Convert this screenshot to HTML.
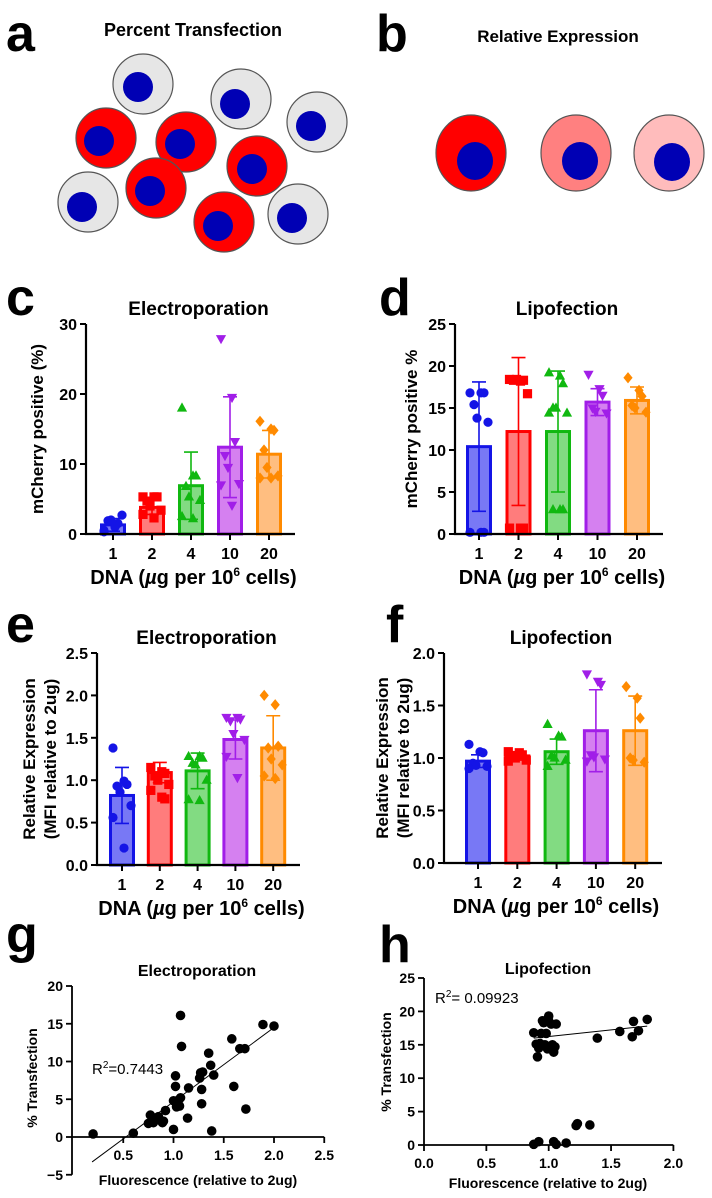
<!DOCTYPE html>
<html><head><meta charset="utf-8">
<style>
html,body{margin:0;padding:0;background:#fff;}
svg{display:block;font-family:"Liberation Sans",Arial,sans-serif;}
.lbl{font-weight:bold;font-size:52px;}
.ttl{font-weight:bold;font-size:19px;}
.tick{font-weight:bold;font-size:16px;}
.stick{font-weight:bold;font-size:14px;}
.atl{font-weight:bold;font-size:20px;}
.ytl{font-weight:bold;font-size:17px;}
</style></head>
<body>
<svg id="fig" width="712" height="1198" viewBox="0 0 712 1198">
<g>
<text class="lbl" x="6" y="51">a</text>
<text class="ttl" x="193" y="36" text-anchor="middle" style="font-size:18px">Percent Transfection</text>
<g stroke="#555" stroke-width="1.2">
<circle cx="143" cy="84" r="30" fill="#e6e6e6"/><circle cx="138" cy="87" r="15" fill="#0000b4" stroke="none"/>
<circle cx="241" cy="99" r="30" fill="#e6e6e6"/><circle cx="235" cy="104" r="15" fill="#0000b4" stroke="none"/>
<circle cx="317" cy="122" r="30" fill="#e6e6e6"/><circle cx="311" cy="126" r="15" fill="#0000b4" stroke="none"/>
<circle cx="106" cy="138" r="30" fill="#ff0000"/><circle cx="99" cy="141" r="15" fill="#0000b4" stroke="none"/>
<circle cx="186" cy="142" r="30" fill="#ff0000"/><circle cx="180" cy="144" r="15" fill="#0000b4" stroke="none"/>
<circle cx="257" cy="166" r="30" fill="#ff0000"/><circle cx="252" cy="169" r="15" fill="#0000b4" stroke="none"/>
<circle cx="88" cy="202" r="30" fill="#e6e6e6"/><circle cx="82" cy="207" r="15" fill="#0000b4" stroke="none"/>
<circle cx="156" cy="188" r="30" fill="#ff0000"/><circle cx="150" cy="191" r="15" fill="#0000b4" stroke="none"/>
<circle cx="224" cy="222" r="30" fill="#ff0000"/><circle cx="218" cy="226" r="15" fill="#0000b4" stroke="none"/>
<circle cx="298" cy="214" r="30" fill="#e6e6e6"/><circle cx="292" cy="218" r="15" fill="#0000b4" stroke="none"/>
</g></g>
<g>
<text class="lbl" x="376" y="51">b</text>
<text class="ttl" x="558" y="42" text-anchor="middle" style="font-size:17px">Relative Expression</text>
<g stroke="#555" stroke-width="1.2">
<ellipse cx="471" cy="153" rx="35" ry="38" fill="#ff0000"/><ellipse cx="475" cy="161" rx="18" ry="19" fill="#0000b4" stroke="none"/>
<ellipse cx="576" cy="153" rx="35" ry="38" fill="#ff8080"/><ellipse cx="580" cy="161" rx="18" ry="19" fill="#0000b4" stroke="none"/>
<ellipse cx="669" cy="153" rx="35" ry="38" fill="#ffbcbc"/><ellipse cx="672" cy="162" rx="18" ry="19" fill="#0000b4" stroke="none"/>
</g></g>
<text class="lbl" x="6" y="315">c</text>
<text class="lbl" x="379" y="315">d</text>
<text class="lbl" x="6" y="642">e</text>
<text class="lbl" x="386" y="642">f</text>
<text class="lbl" x="6" y="952">g</text>
<text class="lbl" x="379" y="962">h</text>
</svg>
<script>
const doseCats = ["1","2","4","10","20"];
const cMeans = [1.3, 3.8, 6.9, 12.4, 11.4];
const cSDs = [0.9, 1.0, 4.8, 7.2, 3.4];
const cPts = [[0.5,1.0,1.5,1.9,2.0,2.7,0.3,1.2],[5.3,5.3,5.3,4.7,4.0,3.4,2.8,2.3],[18.0,8.3,8.3,6.8,5.3,4.8,2.5,2.2],[27.9,19.5,13.2,11.2,9.5,7.2,7.0,4.1],[16.1,15.0,14.8,12.0,9.5,8.3,8.0,8.0]];
const cTicks = [0,10,20,30];
const dMeans = [10.4, 12.2, 12.2, 15.7, 15.9];
const dSDs = [7.7, 8.8, 7.2, 1.6, 1.6];
const dPts = [[16.8,16.8,16.8,15.4,13.8,13.3,0.2,0.2,0.2],[18.4,18.2,18.3,18.3,18.4,16.7,0.7,0.7,0.7],[19.2,18.8,17.9,15.0,15.0,14.4,14.4,2.9,2.9,2.9],[19.0,17.3,16.5,15.0,14.6,14.4],[18.6,17.1,16.4,15.3,15.0,14.5]];
const dTicks = [0,5,10,15,20,25];
const eMeans = [0.82, 1.09, 1.11, 1.48, 1.38];
const eSDs = [0.33, 0.12, 0.21, 0.23, 0.38];
const ePts = [[1.38,0.99,0.95,0.93,0.86,0.70,0.56,0.20],[1.15,1.10,1.08,1.05,1.00,0.95,0.88,0.80,0.78],[1.28,1.28,1.26,1.20,1.18,1.00,0.77,0.76],[1.74,1.74,1.72,1.70,1.55,1.48,1.28,1.03],[2.00,1.89,1.40,1.38,1.25,1.18,1.05,1.02]];
const eTicks = [0,0.5,1.0,1.5,2.0,2.5];
const fMeans = [0.97, 1.02, 1.06, 1.26, 1.26];
const fSDs = [0.06, 0.04, 0.12, 0.39, 0.33];
const fPts = [[1.13,1.06,1.05,0.95,0.93,0.92,0.90],[1.06,1.05,1.03,1.02,1.00,0.98,0.97],[1.32,1.21,1.20,1.02,1.00,0.98,0.92],[1.80,1.73,1.70,1.03,1.01,0.99,0.97],[1.68,1.57,1.38,1.00,0.98,0.96]];
const fTicks = [0,0.5,1.0,1.5,2.0];
const gX = [0.2,0.6,0.75,0.77,0.8,0.85,0.89,0.9,0.92,1.0,1.0,1.02,1.02,1.03,1.05,1.06,1.07,1.07,1.08,1.14,1.15,1.26,1.27,1.28,1.28,1.29,1.35,1.37,1.38,1.4,1.58,1.6,1.66,1.71,1.72,1.89,2.0];
const gY = [0.4,0.5,1.8,2.9,1.9,2.7,1.9,2.1,3.5,1.0,4.8,8.1,6.7,4.0,4.9,4.1,5.2,16.1,12.0,2.5,6.5,7.8,8.5,6.3,4.4,8.6,11.1,9.5,0.8,8.2,13.0,6.7,11.7,11.7,3.7,14.9,14.7];
const gFitX = [0.19, 2.0];
const gFitY = [-3.3, 14.5];
const gXTicks = [0.5,1.0,1.5,2.0,2.5];
const gYTicks = [-5,0,5,10,15,20];
const hX = [0.88,0.9,0.91,0.92,0.93,0.94,0.95,0.96,0.97,0.98,0.99,1.0,1.0,1.01,1.02,1.03,1.04,1.05,1.06,1.39,1.57,1.67,1.68,1.72,1.79,0.88,0.92,1.04,1.06,1.14,1.22,1.23,1.33];
const hY = [16.8,15.1,13.2,14.5,15.2,16.7,18.6,18.3,15.0,16.7,14.4,18.6,19.3,14.5,18.1,15.0,13.9,14.7,18.1,16.0,17.0,16.2,18.5,17.1,18.8,0.1,0.5,0.5,0.1,0.3,2.9,3.2,3.0];
const hFitX = [0.88, 1.79];
const hFitY = [16.0, 17.8];
const hXTicks = [0.0,0.5,1.0,1.5,2.0];
const hYTicks = [0,5,10,15,20,25];

const NS = "http://www.w3.org/2000/svg";
const svg = document.getElementById('fig');
function mk(tag, attrs, parent){ const e=document.createElementNS(NS,tag); for(const k in attrs) e.setAttribute(k,attrs[k]); (parent||svg).appendChild(e); return e; }
function txt(s, attrs, parent){ const e=mk('text',attrs,parent); e.textContent=s; return e; }
const edge = ['#1414e6','#ff0000','#10b810','#a11ee8','#ff8a00'];
const fill = ['#7878f5','#ff7c7c','#82db82','#d580f0','#ffbe80'];
const shapes = ['circle','square','tri-up','tri-down','diamond'];
function marker(shape, x, y, col, g){
  const s=4.6; let m;
  if(shape==='circle') m=mk('circle',{cx:x,cy:y,r:s},g);
  else if(shape==='square') m=mk('rect',{x:x-s,y:y-s,width:2*s,height:2*s},g);
  else if(shape==='tri-up') m=mk('polygon',{points:`${x},${y-s-1} ${x-s-0.5},${y+s-1} ${x+s+0.5},${y+s-1}`},g);
  else if(shape==='tri-down') m=mk('polygon',{points:`${x},${y+s+1} ${x-s-0.5},${y-s+1} ${x+s+0.5},${y-s+1}`},g);
  else m=mk('polygon',{points:`${x},${y-s-1} ${x+s},${y} ${x},${y+s+1} ${x-s},${y}`},g);
  m.setAttribute('fill',col);
  
  
}
function fmt(v,dec){ return dec? v.toFixed(1): String(v); }

function barChart(o){
  const g=mk('g',{});
  
  
  const yS = v => o.y0 - (v/o.ymax)*(o.y0-o.ytop);
  const n=o.cats.length;
  const xC = i => o.ax + o.first + i*o.step;
  const t=txt(o.title,{x:(o.ax+o.xend)/2+8,y:o.ytop-9,'text-anchor':'middle',class:'ttl'},g);
  
  
  for(let i=0;i<n;i++){
    const bw=23, top=yS(o.means[i]);
    const b=mk('rect',{x:xC(i)-bw/2,y:top,width:bw,height:o.y0-top,fill:fill[i],stroke:edge[i],'stroke-width':3},g);
    
    
  }
  for(let i=0;i<n;i++){
    o.pts[i].forEach((v,j)=>{
      const off = ((j%3)-1)*7 + ((j%2)?2:-2);
      marker(shapes[i], xC(i)+off, yS(v), edge[i], g);
    });
  }
  for(let i=0;i<n;i++){
    const hi=yS(o.means[i]+o.sds[i]), lo=yS(Math.max(0,o.means[i]-o.sds[i]));
    const eb=mk('path',{d:`M${xC(i)},${lo}V${hi}M${xC(i)-7},${hi}H${xC(i)+7}M${xC(i)-7},${lo}H${xC(i)+7}`,stroke:edge[i],'stroke-width':1.6,fill:'none'},g);
    
    
  }
  const ax=mk('path',{d:`M${o.ax},${o.ytop}V${o.y0}H${o.xend}`,stroke:'#000','stroke-width':2.2,fill:'none'},g);
  
  
  o.ticks.forEach(v=>{
    mk('line',{x1:o.ax-6,x2:o.ax,y1:yS(v),y2:yS(v),stroke:'#000','stroke-width':2},g);
    const tl=txt(fmt(v,o.dec),{x:o.ax-9,y:yS(v)+6,'text-anchor':'end',class:'tick'},g);
    
    
  });
  for(let i=0;i<n;i++){
    mk('line',{x1:xC(i),x2:xC(i),y1:o.y0,y2:o.y0+6,stroke:'#000','stroke-width':2},g);
    const tl=txt(o.cats[i],{x:xC(i),y:o.y0+25,'text-anchor':'middle',class:'tick'},g);
    
    
  }
  const xt=mk('text',{x:(o.ax+o.xend)/2+3,y:o.y0+50,'text-anchor':'middle',class:'atl'},g);
  xt.innerHTML='DNA (<tspan font-style="italic">µ</tspan>g per 10<tspan font-size="12" dy="-8">6</tspan><tspan dy="8"> cells)</tspan>';
  
  
  const cy=(o.ytop+o.y0)/2;
  o.ytitle.forEach((s,k)=>{
    const x=o.ytx+k*21;
    const yt=txt(s,{x:x,y:cy,'text-anchor':'middle',class:'ytl',transform:`rotate(-90 ${x} ${cy})`},g);
    
    
  });
}

barChart({name:'chart-c-electroporation',title:'Electroporation',cats:doseCats,means:cMeans,sds:cSDs,pts:cPts,ticks:cTicks,dec:false,
  ax:86,xend:295,y0:534,ytop:324,ymax:30,first:27,step:39,ytitle:['mCherry positive (%)'],ytx:43});
barChart({name:'chart-d-lipofection',title:'Lipofection',cats:doseCats,means:dMeans,sds:dSDs,pts:dPts,ticks:dTicks,dec:false,
  ax:455,xend:663,y0:534,ytop:324,ymax:25,first:24,step:39.5,ytitle:['mCherry positive %'],ytx:417});
barChart({name:'chart-e-electroporation-expression',title:'Electroporation',cats:doseCats,means:eMeans,sds:eSDs,pts:ePts,ticks:eTicks,dec:true,
  ax:97,xend:300,y0:865,ytop:653,ymax:2.5,first:25,step:37.8,ytitle:['Relative Expression','(MFI relative to 2ug)'],ytx:35});
barChart({name:'chart-f-lipofection-expression',title:'Lipofection',cats:doseCats,means:fMeans,sds:fSDs,pts:fPts,ticks:fTicks,dec:true,
  ax:444,xend:662,y0:863,ytop:653,ymax:2.0,first:34,step:39.3,ytitle:['Relative Expression','(MFI relative to 2ug)'],ytx:388});

function scatter(o){
  const g=mk('g',{});
  
  
  const xS=v=>o.x0px+(v-o.xmin)*o.xppu;
  const yS=v=>o.y0px-(v-0)*o.yppu;
  const t=txt(o.title,{x:o.titleX,y:o.titleY,'text-anchor':'middle',class:'ttl',style:'font-size:16px'},g);
  
  
  const yt=o.yTicks, xt=o.xTicks;
  const ytop=yS(yt[yt.length-1]), ybot=yS(yt[0]);
  const ax=mk('path',{d:`M${o.axX},${ytop}V${ybot}M${o.axX},${yS(0)}H${xS(xt[xt.length-1])}`,stroke:'#000','stroke-width':1.8,fill:'none'},g);
  
  
  yt.forEach(v=>{
    mk('line',{x1:o.axX-6,x2:o.axX,y1:yS(v),y2:yS(v),stroke:'#000','stroke-width':1.8},g);
    const l=txt(v<0?'\u2212'+(-v):String(v),{x:o.axX-9,y:yS(v)+5,'text-anchor':'end',class:'stick'},g);
    
    
  });
  xt.forEach(v=>{
    mk('line',{x1:xS(v),x2:xS(v),y1:yS(0),y2:yS(0)+6,stroke:'#000','stroke-width':1.8},g);
    const l=txt(v.toFixed(1),{x:xS(v),y:yS(0)+23,'text-anchor':'middle',class:'stick'},g);
    
    
  });
  const xl=txt('Fluorescence (relative to 2ug)',{x:o.xtX,y:o.xtY,'text-anchor':'middle',class:'stick',style:'font-size:14px'},g);
  
  
  const yl=txt('% Transfection',{x:o.ytX,y:o.ytY,'text-anchor':'middle',class:'stick',style:'font-size:14px',transform:`rotate(-90 ${o.ytX} ${o.ytY})`},g);
  
  
  o.xs.forEach((x,i)=>{
    const c=mk('circle',{cx:xS(x),cy:yS(o.ys[i]),r:4.8,fill:'#000'},g);
    
    
  });
  const fl=mk('line',{x1:xS(o.fitX[0]),y1:yS(o.fitY[0]),x2:xS(o.fitX[1]),y2:yS(o.fitY[1]),stroke:'#000','stroke-width':1},g);
  
  
  const r=mk('text',{x:o.rX,y:o.rY,style:'font-size:15px'},g);
  r.innerHTML='R<tspan font-size="10" dy="-6">2</tspan><tspan dy="6">'+o.rText+'</tspan>';
  
  
}
scatter({name:'chart-g-scatter',title:'Electroporation',xs:gX,ys:gY,fitX:gFitX,fitY:gFitY,xTicks:gXTicks,yTicks:gYTicks,
  x0px:73,xmin:0,xppu:100.5,y0px:1137,yppu:7.55,axX:72,titleX:197,titleY:976,xtX:198,xtY:1185,ytX:37,ytY:1078,rX:92,rY:1074,rText:'=0.7443'});
scatter({name:'chart-h-scatter',title:'Lipofection',xs:hX,ys:hY,fitX:hFitX,fitY:hFitY,xTicks:hXTicks,yTicks:hYTicks,
  x0px:424,xmin:0,xppu:124.7,y0px:1145,yppu:6.68,axX:424,titleX:548,titleY:974,xtX:548,xtY:1188,ytX:391,ytY:1062,rX:435,rY:1003,rText:'= 0.09923'});
</script>
</body></html>
